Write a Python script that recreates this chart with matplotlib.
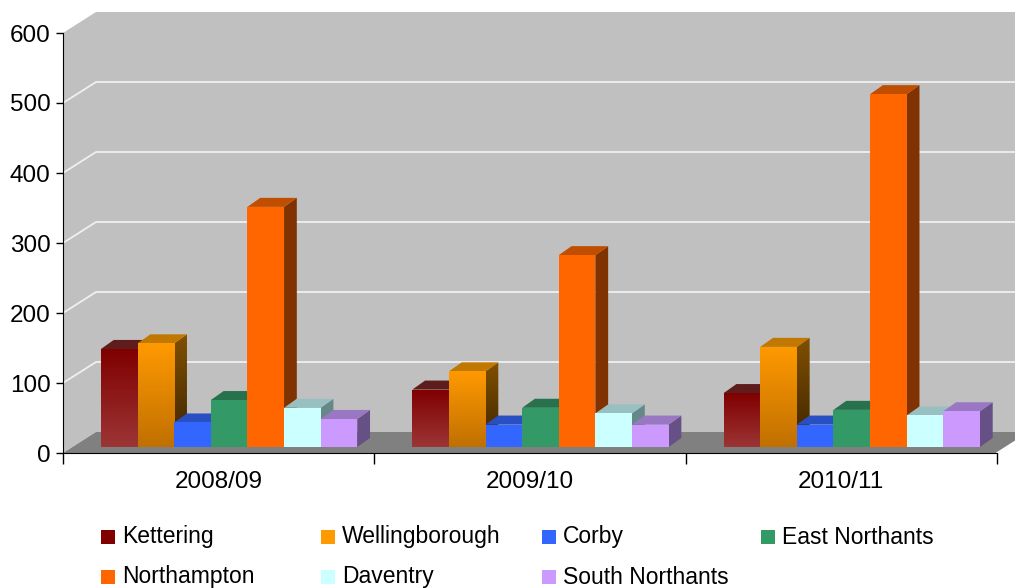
import matplotlib
matplotlib.use("Agg")
import matplotlib.pyplot as plt
import numpy as np
from matplotlib.patches import Polygon, Rectangle
from matplotlib.colors import LinearSegmentedColormap

plt.rcParams['font.family'] = ['Liberation Sans', 'DejaVu Sans']

# data
years = ['2008/09', '2009/10', '2010/11']
districts = ['Kettering', 'Wellingborough', 'Corby', 'East Northants',
             'Northampton', 'Daventry', 'South Northants']
kettering = [140, 82, 77]
wellingborough = [148, 108, 143]
corby = [35, 32, 32]
east_northants = [67, 56, 53]
northampton = [343, 274, 504]
daventry = [56, 48, 45]
south_northants = [40, 32, 51]
series = [kettering, wellingborough, corby, east_northants,
          northampton, daventry, south_northants]
yticks = [0, 100, 200, 300, 400, 500, 600]

# colours: front (top, bottom), top face, side face (top, bottom)
front = [('#800000', '#9c3535'), ('#ff9900', '#c07000'), ('#3366ff', '#3366ff'),
         ('#339966', '#339966'), ('#ff6600', '#ff6600'), ('#ccffff', '#ccffff'),
         ('#cc99ff', '#cc99ff')]
topc = ['#5e1c1c', '#c07800', '#2850c2', '#27714d', '#c04e00', '#99c0c0', '#9977c2']
side = [('#4a1010', '#4a1010'), ('#805000', '#3c2400'), ('#1e3da0', '#1e3da0'),
        ('#1f5c3d', '#1f5c3d'), ('#803300', '#803300'), ('#668888', '#668888'),
        ('#665085', '#665085')]

W, H = 1015, 588
fig = plt.figure(figsize=(W / 100, H / 100), dpi=100)
ax = fig.add_axes([63 / W, (H - 453) / H, (997 - 63) / W, (453 - 33) / H])
ax.set_xlim(0, 3)
ax.set_ylim(0, 600)
ax.patch.set_visible(False)

DX, DY = 0.106, 30.0       # wall depth
BW = 0.1176                # bar width
X0 = 0.122                 # first bar front offset in category
SY = 8.6                   # bar base lift (depth position on floor)
BDX, BDY = 0.041, 12.9     # bar depth

# walls and floor
ax.add_patch(Polygon([(0, 0), (0, 600), (DX, 600 + DY), (DX, DY)],
                     closed=True, fc='#c0c0c0', ec='none', clip_on=False, zorder=0))
ax.add_patch(Polygon([(DX, DY), (DX, 600 + DY), (3 + DX, 600 + DY), (3 + DX, DY)],
                     closed=True, fc='#c0c0c0', ec='none', clip_on=False, zorder=0))
ax.add_patch(Polygon([(0, 0), (3, 0), (3 + DX, DY), (DX, DY)],
                     closed=True, fc='#808080', ec='none', clip_on=False, zorder=1))
ax.plot([3, 3 + DX], [0, DY], color='white', lw=1.2, clip_on=False, zorder=1)
for v in yticks[1:-1]:
    ax.plot([0, DX, 3 + DX], [v, v + DY, v + DY], color='#f0f0f0', lw=1.3,
            clip_on=False, zorder=0.5)


def grad(poly, c1, c2, x0, x1, y0, y1):
    ax.add_patch(poly)
    if c1 == c2:
        poly.set_facecolor(c1)
        return
    poly.set_facecolor('none')
    cmap = LinearSegmentedColormap.from_list('g', [c2, c1])
    img = ax.imshow(np.linspace(0, 1, 100).reshape(-1, 1), cmap=cmap, origin='lower',
                    extent=[x0, x1, y0, y1], aspect='auto', zorder=poly.get_zorder())
    img.set_clip_path(poly)


for i in range(len(years)):
    for j, vals in enumerate(series):
        v = vals[i]
        x = i + X0 + j * BW
        z = 3 + i * 10 + j
        # side face
        sp = Polygon([(x + BW, SY), (x + BW + BDX, SY + BDY), (x + BW + BDX, SY + v + BDY),
                      (x + BW, SY + v)], closed=True, ec='none', zorder=z)
        grad(sp, side[j][0], side[j][1], x + BW, x + BW + BDX, SY, SY + v + BDY)
        # top face
        ax.add_patch(Polygon([(x, SY + v), (x + BDX, SY + v + BDY),
                              (x + BW + BDX, SY + v + BDY), (x + BW, SY + v)],
                             closed=True, fc=topc[j], ec='none', zorder=z))
        # front face
        fp = Rectangle((x, SY), BW, v, ec='none', zorder=z + 0.5)
        grad(fp, front[j][0], front[j][1], x, x + BW, SY, SY + v)

ax.set_xlim(0, 3)
ax.set_ylim(0, 600)

# axes
for s in ['top', 'right']:
    ax.spines[s].set_visible(False)
ax.spines['left'].set_zorder(50)
ax.spines['bottom'].set_zorder(50)
ax.set_yticks(yticks)
ax.tick_params(axis='y', direction='out', length=5, width=1, labelsize=17.5, pad=4)
ax.set_xticks([0, 1, 2, 3])
ax.set_xticklabels([])
ax.tick_params(axis='x', which='major', direction='out', length=8, width=1)
ax.set_xticks([0.5, 1.5, 2.5], minor=True)
ax.set_xticklabels(years, minor=True)
ax.tick_params(axis='x', which='minor', length=0, labelsize=17.5, pad=13)

# legend drawn in figure pixels
leg_pos = [(101, 537), (321, 537), (542, 537), (761, 537),
           (101, 577), (321, 577), (542, 577)]
for j, name in enumerate(districts):
    px, py = leg_pos[j]
    r = Rectangle((px / W, (H - py - 7) / H), 14 / W, 14 / H, transform=fig.transFigure,
                  ec='none', fc=front[j][0])
    fig.add_artist(r)
    if front[j][0] != front[j][1]:
        cmap = LinearSegmentedColormap.from_list('g', [front[j][1], front[j][0]])
        lax = fig.add_axes([px / W, (H - py - 7) / H, 14 / W, 14 / H])
        lax.imshow(np.linspace(0, 1, 50).reshape(-1, 1), cmap=cmap, origin='lower',
                   aspect='auto')
        lax.axis('off')
    fig.text((px + 21) / W, (H - py) / H, name, fontsize=16.5, va='center', ha='left')

fig.savefig('out.png', dpi=100)
